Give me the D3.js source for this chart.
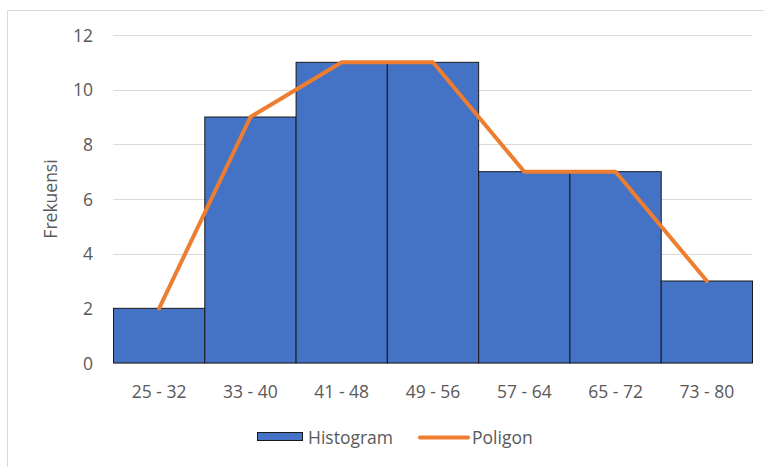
<!DOCTYPE html>
<html><head><meta charset="utf-8">
<script src="https://cdn.jsdelivr.net/npm/d3@7"></script>
<style>body{margin:0;background:#fff;}svg{display:block;}</style>
</head><body>
<script>
const categories = ["25 - 32","33 - 40","41 - 48","49 - 56","57 - 64","65 - 72","73 - 80"];
const frequencies = [2,9,11,11,7,7,3];
const yTicks = [0,2,4,6,8,10,12];
const seriesNames = ["Histogram","Poligon"];

const W=764,H=467;
const svg=d3.select("body").append("svg").attr("width",W).attr("height",H);
const font="'Open Sans', 'Noto Sans', sans-serif";
const fs="17.5px";
svg.append("rect").attr("x",7.5).attr("y",10.5).attr("width",W+10).attr("height",H+10)
  .attr("fill","#fff").attr("stroke","#d9d9d9");

const x0=113.5,x1=752.5,yTop=35,yBot=363;
const x=d3.scaleBand().domain(categories).range([x0,x1]).padding(0);
const y=d3.scaleLinear().domain([0,12]).range([yBot,yTop]);

const g=svg.append("g");
g.selectAll("line.grid").data(yTicks).join("line")
  .attr("x1",x0).attr("x2",x1).attr("y1",d=>Math.round(y(d))+0.5).attr("y2",d=>Math.round(y(d))+0.5)
  .attr("stroke","#d9d9d9").attr("stroke-width",1);

const yAxis=d3.axisLeft(y).tickValues(yTicks).tickSize(0).tickPadding(0);
const ya=svg.append("g").attr("transform",`translate(93,0)`).call(yAxis);
ya.select(".domain").remove();
ya.selectAll("text").attr("fill","#595959").attr("dy","0.36em").style("font-family",font).style("font-size",fs);

g.selectAll("rect.bar").data(frequencies).join("rect")
  .attr("x",(d,i)=>x(categories[i])).attr("width",x.bandwidth())
  .attr("y",d=>y(d)).attr("height",d=>yBot-y(d))
  .attr("fill","#4472C4").attr("stroke","#1a1a1a").attr("stroke-width",1);

const line=d3.line().x((d,i)=>x(categories[i])+x.bandwidth()/2).y(d=>y(d));
g.append("path").datum(frequencies).attr("d",line).attr("fill","none")
  .attr("stroke","#ED7D31").attr("stroke-width",4).attr("stroke-linejoin","round").attr("stroke-linecap","round");

const xAxis=d3.axisBottom(x).tickSize(0).tickPadding(0);
const xa=svg.append("g").attr("transform",`translate(0,398)`).call(xAxis);
xa.select(".domain").remove();
xa.selectAll("text").attr("dy",0).attr("fill","#595959").style("font-family",font).style("font-size",fs);

svg.append("text").attr("transform",`translate(57,199) rotate(-90)`).attr("text-anchor","middle")
  .attr("fill","#595959").style("font-family",font).style("font-size",fs).text("Frekuensi");

const lg=svg.append("g");
lg.append("rect").attr("x",257.5).attr("y",432.5).attr("width",45).attr("height",8)
  .attr("fill","#4472C4").attr("stroke","#1a1a1a");
lg.append("text").attr("x",308).attr("y",444).attr("fill","#595959").style("font-family",font).style("font-size",fs).text(seriesNames[0]);
lg.append("line").attr("x1",420).attr("x2",468).attr("y1",437.5).attr("y2",437.5)
  .attr("stroke","#ED7D31").attr("stroke-width",4).attr("stroke-linecap","round");
lg.append("text").attr("x",472).attr("y",444).attr("fill","#595959").style("font-family",font).style("font-size",fs).text(seriesNames[1]);
</script>
</body></html>
